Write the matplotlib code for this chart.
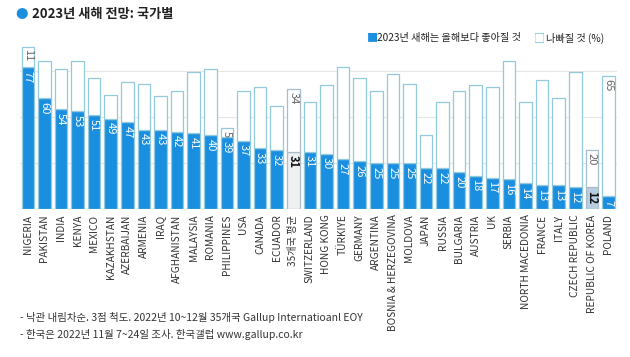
import matplotlib
matplotlib.use("Agg")
import matplotlib.pyplot as plt
import numpy as np

plt.rcParams["font.family"] = ["Noto Sans CJK KR", "DejaVu Sans"]

countries = ["NIGERIA", "PAKISTAN", "INDIA", "KENYA", "MEXICO", "KAZAKHSTAN",
             "AZERBAIJAN", "ARMENIA", "IRAQ", "AFGHANISTAN", "MALAYSIA", "ROMANIA",
             "PHILIPPINES", "USA", "CANADA", "ECUADOR", "35개국 평균", "SWITZERLAND",
             "HONG KONG", "TÜRKIYE", "GERMANY", "ARGENTINA", "BOSNIA & HERZEGOVINA",
             "MOLDOVA", "JAPAN", "RUSSIA", "BULGARIA", "AUSTRIA", "UK", "SERBIA",
             "NORTH MACEDONIA", "FRANCE", "ITALY", "CZECH REPUBLIC",
             "REPUBLIC OF KOREA", "POLAND"]
better = [77, 60, 54, 53, 51, 49, 47, 43, 43, 42, 41, 40, 39, 37, 33, 32, 31, 31,
          30, 27, 26, 25, 25, 25, 22, 22, 20, 18, 17, 16, 14, 13, 13, 12, 12, 7]
worse = [11, 20, 22, 27, 20, 13, 22, 25, 18, 22, 33, 36, 5, 27, 33, 24, 34, 27,
         37, 50, 45, 39, 48, 43, 18, 36, 44, 49, 49, 64, 44, 57, 47, 62, 20, 65]
worse_shown = ["NIGERIA", "PHILIPPINES", "35개국 평균", "REPUBLIC OF KOREA", "POLAND"]

BLUE = "#1a8fe0"
EDGE = "#93c9dc"
AVG = "35개국 평균"
KOR = "REPUBLIC OF KOREA"

fig = plt.figure(figsize=(6.3, 3.57), dpi=100)
ax = fig.add_axes([0.031, 0.4146, 0.948, 0.465])

x = np.arange(len(countries))
fills = []
for c in countries:
    if c == AVG:
        fills.append("#eef0f2")
    elif c == KOR:
        fills.append("#b9cde0")
    else:
        fills.append(BLUE)
edges = ["#a9bccb" if c in (AVG, KOR) else EDGE for c in countries]

ax.bar(x, better, width=0.76, color=fills, edgecolor=edges, linewidth=0.9, zorder=2)
ax.bar(x, worse, bottom=better, width=0.76, color="white", edgecolor=edges,
       linewidth=0.9, zorder=2)

for i, c in enumerate(countries):
    special = c in (AVG, KOR)
    ax.text(i, better[i] - 2.0, str(better[i]), rotation=270, ha="center", va="top",
            fontsize=8, color="#111111" if special else "white",
            fontweight="bold" if special else "normal", zorder=3)
    if c in worse_shown:
        ax.text(i, better[i] + worse[i] - 1.5, str(worse[i]), rotation=270,
                ha="center", va="top", fontsize=8, color="#666666", zorder=3)

ax.set_xlim(-0.5, len(countries) - 0.5)
ax.set_ylim(0, 90)
ax.set_yticks([25, 50, 75])
ax.yaxis.grid(True, color="#e6e6e6", linewidth=0.8, zorder=0)
ax.tick_params(axis="y", left=False, labelleft=False)
ax.tick_params(axis="x", length=0, pad=4)
ax.set_xticks(x)
ax.set_xticklabels(countries, rotation=90, fontsize=7.3, color="#333333")
for s in ax.spines.values():
    s.set_visible(False)

# title with bullet
fig.text(0.035, 0.960, "●", fontsize=9, color=BLUE, ha="center", va="center")
fig.text(0.050, 0.960, "2023년 새해 전망: 국가별", fontsize=9.5, fontweight="bold",
         color="#222222", ha="left", va="center")

# legend
fig.text(0.583, 0.893, "■", fontsize=8, color=BLUE, ha="left", va="center")
fig.text(0.599, 0.893, "2023년 새해는 올해보다 좋아질 것", fontsize=7.3, color="#222222",
         ha="left", va="center")
fig.text(0.848, 0.893, "□", fontsize=8, color="#6cc0d8", ha="left", va="center")
fig.text(0.866, 0.893, "나빠질 것 (%)", fontsize=7.3, color="#222222",
         ha="left", va="center")

# footnotes
fig.text(0.032, 0.110, "- 낙관 내림차순. 3점 척도. 2022년 10~12월 35개국 Gallup Internatioanl EOY",
         fontsize=7.5, color="#333333", ha="left", va="center")
fig.text(0.032, 0.064, "- 한국은 2022년 11월 7~24일 조사. 한국갤럽 www.gallup.co.kr",
         fontsize=7.5, color="#333333", ha="left", va="center")

fig.savefig("out.png", dpi=100)
